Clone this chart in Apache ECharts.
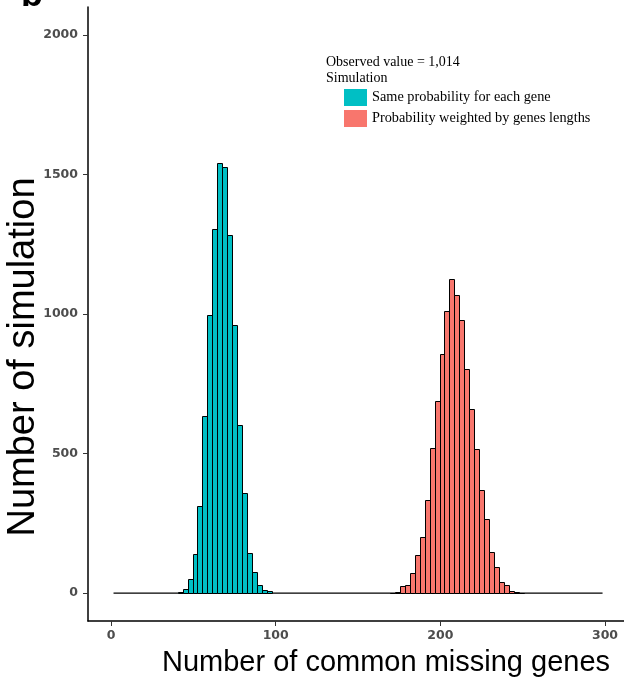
<!DOCTYPE html>
<html>
<head>
<meta charset="utf-8">
<title>Number of common missing genes</title>
<script src="https://cdn.jsdelivr.net/npm/echarts@6/dist/echarts.min.js"></script>
<style>
  html, body { margin: 0; padding: 0; background: #fff; }
  #chart { width: 624px; height: 677px; }
</style>
</head>
<body>
<div id="chart"></div>
<script>
// Histogram counts of simulated common missing genes (bin width 3)
const binWidth = 3;
const sameProbStart = 40.5;
const sameProbCounts = [4, 14, 50, 141, 312, 633, 996, 1304, 1540, 1526, 1283, 961, 602, 358, 143, 75, 30, 12, 6];
const weightedStart = 169.5;
const weightedCounts = [2, 5, 24, 30, 72, 137, 201, 332, 519, 690, 856, 1012, 1126, 1069, 979, 804, 661, 517, 370, 266, 147, 95, 39, 30, 6, 3, 1];
// Full span of the histogram bins (empty bins form a flat outline at zero)
const histRange = [1.5, 298.5];

const seriesNames = ['Same probability for each gene', 'Probability weighted by genes lengths'];
const seriesColors = ['#00BFC4', '#F8766D'];
const observedValue = '1,014';

const xTicks = [0, 100, 200, 300];
const yTicks = [0, 500, 1000, 1500, 2000];

function toBins(start, counts) {
  return counts.map((c, i) => [start + i * binWidth, start + (i + 1) * binWidth, c]);
}

function renderBin(params, api) {
  const top = api.coord([api.value(0), api.value(2)]);
  const base = api.coord([api.value(1), 0]);
  const x0 = Math.round(top[0]) + 0.5;
  const x1 = Math.round(base[0]) + 0.5;
  const y0 = Math.round(top[1]) + 0.5;
  const y1 = Math.round(base[1]) + 0.5;
  return {
    type: 'rect',
    shape: { x: x0, y: y0, width: x1 - x0, height: y1 - y0 },
    style: { fill: api.visual('color'), stroke: '#000', lineWidth: 1 }
  };
}

const tickLabel = {
  color: '#4d4d4d',
  fontWeight: 'bold',
  fontFamily: 'DejaVu Sans',
  fontSize: 12.5,
  formatter: (v) => String(v)
};

const chart = echarts.init(document.getElementById('chart'), null, { renderer: 'canvas' });

chart.setOption({
  animation: false,
  backgroundColor: '#fff',
  title: {
    text: 'Observed value = ' + observedValue + '\nSimulation',
    left: 326,
    top: 54,
    padding: 0,
    textStyle: {
      fontFamily: 'Liberation Serif',
      fontSize: 14,
      fontWeight: 'normal',
      color: '#000',
      lineHeight: 16
    }
  },
  legend: {
    data: seriesNames,
    orient: 'vertical',
    left: 344,
    top: 89,
    padding: 0,
    itemWidth: 23,
    itemHeight: 17,
    itemGap: 4,
    icon: 'rect',
    selectedMode: false,
    itemStyle: { borderWidth: 0 },
    textStyle: {
      fontFamily: 'Liberation Serif',
      fontSize: 14.3,
      color: '#000'
    }
  },
  grid: {
    left: 88,
    top: 7,
    right: -3,
    bottom: 56,
    containLabel: false,
    outerBoundsMode: 'none'
  },
  xAxis: {
    type: 'value',
    min: -14,
    max: 313.35,
    splitLine: { show: false },
    axisLine: { show: true, onZero: false, lineStyle: { color: '#000', width: 1.5 } },
    axisTick: { show: true, customValues: xTicks, length: 5, lineStyle: { color: '#333', width: 1 } },
    axisLabel: Object.assign({ customValues: xTicks, margin: 8 }, tickLabel)
  },
  yAxis: {
    type: 'value',
    min: -100,
    max: 2100,
    splitLine: { show: false },
    axisLine: { show: true, onZero: false, lineStyle: { color: '#000', width: 1.5 } },
    axisTick: { show: true, customValues: yTicks, length: 5, lineStyle: { color: '#333', width: 1 } },
    axisLabel: Object.assign({ customValues: yTicks, margin: 10 }, tickLabel)
  },
  graphic: [
    {
      type: 'text',
      x: 21,
      y: 14,
      style: {
        text: 'b',
        font: 'bold 36px "Liberation Sans"',
        fill: '#000',
        textAlign: 'left',
        textVerticalAlign: 'bottom'
      }
    },
    {
      type: 'text',
      x: 24,
      y: 357,
      rotation: Math.PI / 2,
      style: {
        text: 'Number of simulation',
        font: '38px "Liberation Sans"',
        fill: '#000',
        textAlign: 'center',
        textVerticalAlign: 'middle'
      }
    },
    {
      type: 'text',
      x: 386,
      y: 663,
      style: {
        text: 'Number of common missing genes',
        font: '29px "Liberation Sans"',
        fill: '#000',
        textAlign: 'center',
        textVerticalAlign: 'middle'
      }
    }
  ],
  series: [
    {
      type: 'line',
      name: 'empty bins',
      data: [[histRange[0], 0], [histRange[1], 0]],
      symbol: 'none',
      silent: true,
      lineStyle: { color: '#000', width: 1.2 },
      z: 1
    },
    {
      type: 'custom',
      name: seriesNames[0],
      color: seriesColors[0],
      itemStyle: { color: seriesColors[0] },
      renderItem: renderBin,
      encode: { x: [0, 1], y: 2 },
      data: toBins(sameProbStart, sameProbCounts),
      z: 2
    },
    {
      type: 'custom',
      name: seriesNames[1],
      color: seriesColors[1],
      itemStyle: { color: seriesColors[1] },
      renderItem: renderBin,
      encode: { x: [0, 1], y: 2 },
      data: toBins(weightedStart, weightedCounts),
      z: 2
    }
  ]
});
</script>
</body>
</html>
